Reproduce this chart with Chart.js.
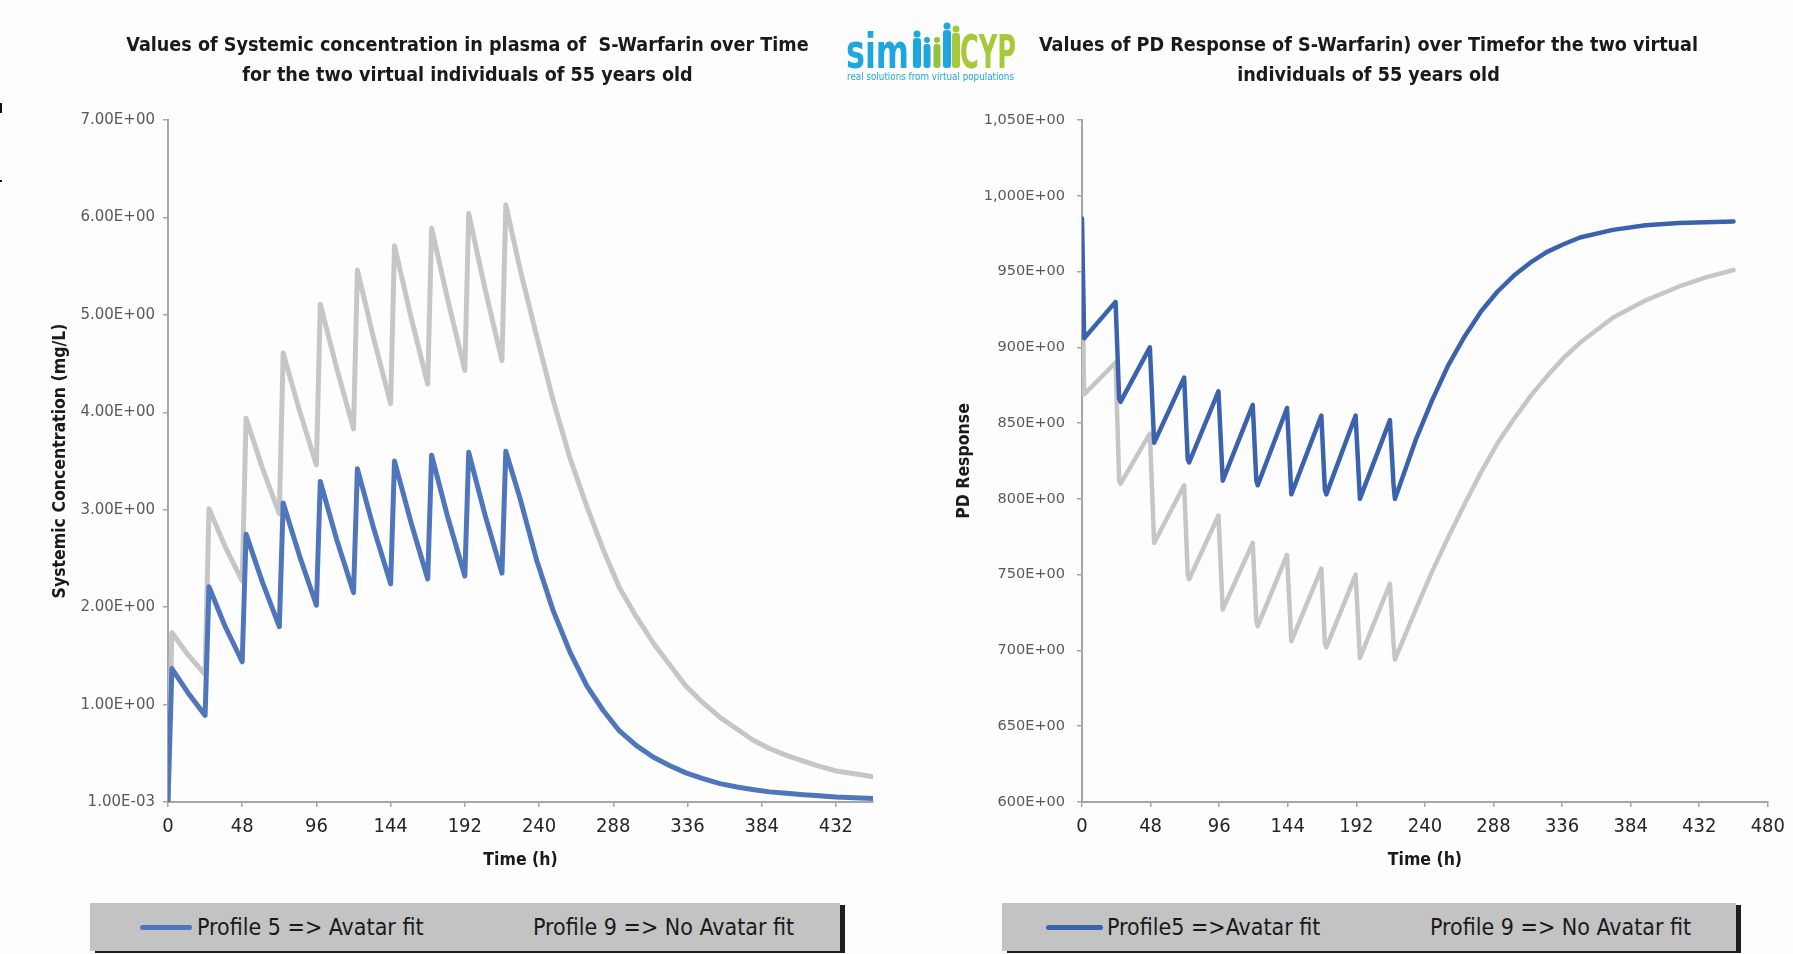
<!DOCTYPE html>
<html><head><meta charset="utf-8">
<script src="https://cdn.jsdelivr.net/npm/chart.js@4.4.1/dist/chart.umd.min.js"></script>
<style>
html,body{margin:0;padding:0;background:#fdfdfd;width:1793px;height:954px;overflow:hidden;position:relative;font-family:'Liberation Sans Narrow','DejaVu Sans Condensed','Roboto Condensed',sans-serif;}
.box{position:absolute;top:0;height:880px;}
#b1{left:0;width:934px;}
#b2{left:945px;width:848px;}
.legend{position:absolute;top:903px;height:48px;background:#c3c3c3;box-shadow:5px 2px 0 #1e1e1e;}
.item{position:absolute;top:0;height:48px;line-height:48px;font-size:23px;color:#1a1a1a;white-space:nowrap;}
.sw{position:absolute;top:22px;height:5px;border-radius:3px;}
#logo{position:absolute;left:846px;top:20px;width:172px;height:62px;z-index:2;}
.mark{position:absolute;background:#111;}
</style>
</head><body>
<div class="mark" style="left:0;top:103px;width:2px;height:10px"></div>
<div class="mark" style="left:0;top:180px;width:2px;height:2px"></div>
<div class="box" id="b1"><canvas id="c1"></canvas></div>
<div class="box" id="b2"><canvas id="c2"></canvas></div>
<svg id="logo" width="172" height="62" viewBox="0 0 172 62">
  <text x="0" y="48" font-family="'DejaVu Sans Condensed','Liberation Sans',sans-serif" font-weight="bold" font-size="48" fill="#1ca8dd" textLength="63" lengthAdjust="spacingAndGlyphs">sim</text>
  <circle cx="71" cy="14" r="3.5" fill="#1ca8dd"/><rect x="67" y="18" width="8" height="30" rx="3" fill="#1ca8dd"/>
  <circle cx="81" cy="20" r="3" fill="#1ca8dd"/><rect x="77.5" y="24" width="7" height="24" rx="3" fill="#1ca8dd"/>
  <circle cx="91" cy="20" r="3" fill="#8fc23f"/><rect x="87.5" y="24" width="7" height="24" rx="3" fill="#8fc23f"/>
  <circle cx="101" cy="6" r="3.5" fill="#1ca8dd"/><rect x="97" y="10" width="8" height="38" rx="3" fill="#1ca8dd"/>
  <circle cx="110" cy="9" r="3.5" fill="#a6c93a"/><rect x="106" y="13" width="8" height="35" rx="3" fill="#a6c93a"/>
  <text x="114" y="48" font-family="'DejaVu Sans Condensed','Liberation Sans',sans-serif" font-weight="bold" font-size="46" fill="#a6c93a" textLength="56" lengthAdjust="spacingAndGlyphs">CYP</text>
  <text x="1" y="60" font-family="'DejaVu Sans Condensed','Liberation Sans',sans-serif" font-size="10" fill="#1ca8dd" textLength="167" lengthAdjust="spacingAndGlyphs">real solutions from virtual populations</text>
</svg>
<div class="legend" style="left:90px;width:750px;">
  <div class="sw" style="left:50px;width:52px;background:#4f76ba"></div>
  <div class="item" id="l1a" style="left:107px"></div>
  <div class="item" id="l1b" style="left:443px"></div>
</div>
<div class="legend" style="left:1002px;width:734px;">
  <div class="sw" style="left:44px;width:57px;background:#3b63ad"></div>
  <div class="item" id="l2a" style="left:105px"></div>
  <div class="item" id="l2b" style="left:428px"></div>
</div>
<script>
// ---------- DATA ----------
const leftTitle = ['Values of Systemic concentration in plasma of  S-Warfarin over Time', 'for the two virtual individuals of 55 years old'];
const rightTitle = ['Values of PD Response of S-Warfarin) over Timefor the two virtual', 'individuals of 55 years old'];
const leftLegend = ['Profile 5 => Avatar fit', 'Profile 9 => No Avatar fit'];
const rightLegend = ['Profile5 =>Avatar fit', 'Profile 9 => No Avatar fit'];
const xTitle = 'Time (h)';
const leftYTitle = 'Systemic Concentration (mg/L)';
const rightYTitle = 'PD Response';

const leftXTicks = [0, 48, 96, 144, 192, 240, 288, 336, 384, 432];
const rightXTicks = [0, 48, 96, 144, 192, 240, 288, 336, 384, 432, 480];
const leftYTicks = [0.001, 1, 2, 3, 4, 5, 6, 7];
const leftYTickLabels = ['1.00E-03', '1.00E+00', '2.00E+00', '3.00E+00', '4.00E+00', '5.00E+00', '6.00E+00', '7.00E+00'];
const rightYTicks = [600, 650, 700, 750, 800, 850, 900, 950, 1000, 1050];
const rightYTickLabels = ['600E+00', '650E+00', '700E+00', '750E+00', '800E+00', '850E+00', '900E+00', '950E+00', '1,000E+00', '1,050E+00'];

const leftTime = [0, 2.5, 13, 24, 26.5, 37, 48, 50.5, 61, 72, 74.5, 85, 96, 98.5, 109, 120, 122.5, 133, 144, 146.5, 157, 168, 170.5, 181, 192, 194.5, 205, 216,
  218.5, 228, 238.5, 249, 260, 271, 281.5, 292, 303, 314, 325, 335, 346, 357, 368, 378, 389, 400, 411, 421, 432, 444, 456];
const leftConcProfile5 = [0.001, 1.37, 1.12, 0.89, 2.21, 1.80, 1.44, 2.75, 2.26, 1.80, 3.07, 2.53, 2.02, 3.29, 2.70, 2.15, 3.42, 2.81, 2.24, 3.50, 2.88, 2.29, 3.56, 2.92, 2.32, 3.59, 2.95, 2.35,
  3.60, 3.10, 2.48, 1.97, 1.54, 1.19, 0.94, 0.73, 0.58, 0.46, 0.37, 0.30, 0.24, 0.19, 0.155, 0.13, 0.105, 0.09, 0.075, 0.064, 0.052, 0.044, 0.037];
const leftConcProfile9 = [0.001, 1.74, 1.51, 1.31, 3.01, 2.62, 2.27, 3.94, 3.43, 2.96, 4.61, 4.02, 3.46, 5.11, 4.46, 3.83, 5.46, 4.76, 4.09, 5.71, 4.99, 4.29, 5.89, 5.15, 4.43, 6.04, 5.27, 4.53,
  6.13, 5.45, 4.78, 4.13, 3.53, 3.03, 2.59, 2.20, 1.90, 1.63, 1.40, 1.19, 1.02, 0.87, 0.75, 0.64, 0.55, 0.48, 0.42, 0.37, 0.32, 0.29, 0.26];

const rightTime = [0, 1.5, 23.5, 26, 27, 47.5, 50.5, 71.5, 74, 75, 95.5, 98.5, 119.5, 122, 123, 143.5, 146.5, 167.5, 170, 171, 191.5, 194.5, 215.5, 218, 219,
  234, 245, 256.5, 268, 279.5, 291, 302.5, 314, 325.5, 337, 348.5, 371.5, 394.5, 417.5, 436, 456];
const rightRespProfile5 = [985, 906, 930, 866, 864, 900, 837, 880, 826, 824, 871, 812, 862, 812, 809, 860, 803, 855, 806, 803, 855, 800, 852, 810, 800,
  840, 865, 888.5, 907.5, 924, 937, 947.5, 956, 963, 968, 972.5, 977.5, 980.5, 982, 982.5, 983];
const rightRespProfile9 = [968, 869, 890, 812, 810, 843, 771, 809, 750, 747, 789, 727, 771, 720, 716, 763, 706, 754, 705, 702, 750, 695, 744, 705, 694,
  728, 752, 775, 797, 818, 837, 853, 868, 881, 893, 903, 919.5, 931, 940, 946, 951];

// ---------- STYLE ----------
const F = "'Liberation Sans Narrow', 'DejaVu Sans Condensed', 'Roboto Condensed', sans-serif";
const AX = '#a6a6a6';
document.getElementById('l1a').textContent = leftLegend[0];
document.getElementById('l1b').textContent = leftLegend[1];
document.getElementById('l2a').textContent = rightLegend[0];
document.getElementById('l2b').textContent = rightLegend[1];

function ds(label, xs, ys, color, w) {
  return { label, data: xs.map((x, i) => ({ x, y: ys[i] })), borderColor: color, backgroundColor: color,
    borderWidth: w, pointRadius: 0, fill: false, tension: 0, borderCapStyle: 'round', borderJoinStyle: 'round' };
}
function axisCommon() {
  return { grid: { drawOnChartArea: false, drawTicks: true, tickLength: 5, color: AX, lineWidth: 1.5 },
    border: { display: true, color: AX, width: 2 } };
}
function makeChart(id, cfg) {
  const xs = Object.assign(axisCommon(), {
    type: 'linear', min: 0, max: cfg.xMax,
    afterBuildTicks: s => { s.ticks = cfg.xTicks.map(v => ({ value: v })); },
    afterFit: s => { s.height = 72; },
    ticks: { font: { family: F, size: 20 }, color: '#262626', padding: 8, maxRotation: 0, autoSkip: false, callback: v => String(v) },
    title: { display: true, text: xTitle, font: { family: F, size: 17.5, weight: 'bold' }, color: '#1a1a1a', padding: { top: 0, bottom: 3 } }
  });
  const ys = Object.assign(axisCommon(), {
    type: 'linear', min: cfg.yMin, max: cfg.yMax,
    afterBuildTicks: s => { s.ticks = cfg.yTicks.map(v => ({ value: v })); },
    afterFit: s => { s.width = cfg.yWidth; },
    ticks: { font: { family: 'DejaVu Sans', size: cfg.yFont }, color: '#595959', padding: cfg.yPad, autoSkip: false,
      callback: (v, i) => cfg.yLabels[i] },
    title: { display: true, text: cfg.yTitle, font: { family: F, size: 17.5, weight: 'bold' }, color: '#1a1a1a', padding: { top: cfg.yTitlePad, bottom: 0 } }
  });
  return new Chart(document.getElementById(id), {
    type: 'line',
    data: { datasets: cfg.datasets },
    options: {
      responsive: true, maintainAspectRatio: false, animation: false,
      layout: { padding: cfg.padding },
      plugins: {
        legend: { display: false }, tooltip: { enabled: false },
        title: { display: true, text: cfg.title, color: '#1a1a1a',
          font: { family: F, size: 19.6, weight: 'bold' , lineHeight: 30 / 19.6 }, padding: { top: 31, bottom: 29 } }
      },
      scales: { x: xs, y: ys }
    }
  });
}

makeChart('c1', {
  title: leftTitle, xMax: 456, xTicks: leftXTicks, yMin: 0.001, yMax: 7, yTicks: leftYTicks, yLabels: leftYTickLabels,
  yTitle: leftYTitle, yWidth: 106, yPad: 8, yFont: 15, yTitlePad: -12.5, padding: { left: 62, right: 61, top: 0, bottom: 6 },
  datasets: [ds(leftLegend[0], leftTime, leftConcProfile5, '#4f76ba', 5), ds(leftLegend[1], leftTime, leftConcProfile9, '#c6c6c6', 5)]
});
makeChart('c2', {
  title: rightTitle, xMax: 480, xTicks: rightXTicks, yMin: 600, yMax: 1050, yTicks: rightYTicks, yLabels: rightYTickLabels,
  yTitle: rightYTitle, yWidth: 121, yPad: 12, yFont: 14.5, yTitlePad: -7.5, padding: { left: 16, right: 17, top: 0, bottom: 6 },
  datasets: [ds(rightLegend[0], rightTime, rightRespProfile5, '#3b63ad', 4.5), ds(rightLegend[1], rightTime, rightRespProfile9, '#c6c6c6', 4.5)]
});
</script>
</body></html>
